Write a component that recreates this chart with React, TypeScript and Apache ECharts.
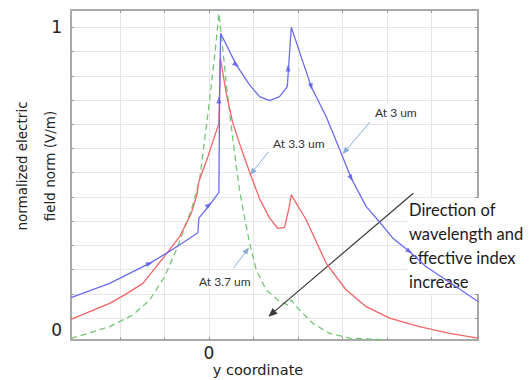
import React, { useEffect, useRef } from "react";
import * as echarts from "echarts";

// ---- data (x: y coordinate, y: normalized electric field norm) ----
const x3um = [-3.1, -2.231, -1.333, -0.957, -0.584, -0.247, -0.225, 0.016, 0.225, 0.24, 0.263, 0.616, 0.915, 1.139, 1.364, 1.589, 1.762, 1.791, 1.852, 2.301, 2.638, 2.975, 3.2, 3.537, 3.798, 4.135, 4.51, 4.885, 5.335, 6.05];
const field3um = [0.108, 0.155, 0.221, 0.254, 0.289, 0.322, 0.37, 0.414, 0.455, 0.76, 0.98, 0.876, 0.81, 0.771, 0.758, 0.771, 0.804, 0.865, 1.0, 0.804, 0.705, 0.584, 0.502, 0.408, 0.364, 0.304, 0.26, 0.21, 0.166, 0.095];

const x33um = [-3.1, -2.231, -1.894, -1.483, -0.996, -0.658, -0.396, -0.27, -0.225, -0.022, 0.225, 0.256, 0.391, 0.539, 0.764, 0.953, 1.139, 1.364, 1.551, 1.701, 1.791, 1.852, 2.189, 2.638, 3.088, 3.537, 4.061, 4.735, 5.409, 6.05];
const field33um = [0.036, 0.089, 0.117, 0.155, 0.245, 0.309, 0.386, 0.447, 0.491, 0.573, 0.683, 0.898, 0.782, 0.683, 0.584, 0.507, 0.434, 0.371, 0.336, 0.34, 0.397, 0.447, 0.364, 0.221, 0.133, 0.078, 0.04, 0.012, -0.01, -0.026];

const x37um = [-3.1, -2.231, -1.708, -1.333, -0.996, -0.733, -0.508, -0.36, -0.209, -0.097, 0.016, 0.128, 0.225, 0.315, 0.391, 0.503, 0.616, 0.69, 0.802, 0.915, 1.065, 1.29, 1.589, 1.775, 1.852, 2.0, 2.337, 2.712, 3.162, 3.971];
const field37um = [-0.027, 0.012, 0.051, 0.1, 0.177, 0.265, 0.353, 0.414, 0.496, 0.628, 0.76, 0.903, 1.046, 0.925, 0.815, 0.672, 0.54, 0.463, 0.371, 0.288, 0.199, 0.133, 0.095, 0.084, 0.1, 0.073, 0.023, -0.01, -0.026, -0.031];

// direction arrows drawn along the 3 um curve
const arrowX3um = [-1.333, 0.0, 0.225, 0.616, 1.78, 2.301, 3.2, 4.51];
const arrowY3um = [0.221, 0.414, 0.76, 0.876, 0.866, 0.804, 0.502, 0.26];
const arrowRot3um = [-70, -50, 0, -125, 0, -165, -150, -125];

// axes
const xGridValues = [-2, -1, 0, 1, 2, 3, 4, 5];
const xLabelValues = [0];
const yGridValues = [0.04, 0.12, 0.2, 0.28, 0.36, 0.44, 0.52, 0.6, 0.68, 0.76, 0.84, 0.92, 1.0];
const yLabelValues = [0, 1];

const zip = (xs: number[], ys: number[]) => xs.map((x, i) => [x, ys[i]]);

function arrow(x1: number, y1: number, x2: number, y2: number, color: string, head: number, width: number) {
  const a = Math.atan2(y2 - y1, x2 - x1);
  const hw = head * 0.42;
  const bx = x2 - head * Math.cos(a);
  const by = y2 - head * Math.sin(a);
  const px = -Math.sin(a);
  const py = Math.cos(a);
  return {
    type: "group",
    z: 3,
    children: [
      { type: "line", z: 3, shape: { x1, y1, x2: bx, y2: by }, style: { stroke: color, lineWidth: width } },
      {
        type: "polygon",
        z: 3,
        shape: { points: [[x2, y2], [bx + px * hw, by + py * hw], [bx - px * hw, by - py * hw]] },
        style: { fill: color },
      },
    ],
  };
}

export default function App() {
  const ref = useRef<HTMLDivElement>(null);
  useEffect(() => {
    if (!ref.current) return;
    const chart = echarts.init(ref.current, undefined, { renderer: "svg" });
    const frame = { show: true, onZero: false, lineStyle: { color: "#a9a9a9", width: 2 } };
    const xMin = -3.1, xMax = 6.05, yMin = -0.032, yMax = 1.057;
    const tickStyle = { color: "#999", width: 1 };
    const labelFont = { fontFamily: "DejaVu Sans", fontSize: 17, color: "#222" };
    const noteFont = { fontFamily: "Lato", fontSize: 12, fill: "#333", backgroundColor: "#fff", padding: [2, 2] };
    chart.setOption({
      animation: false,
      grid: { left: 71, right: 52, top: 10, bottom: 40, containLabel: false, outerBoundsMode: "none" },
      xAxis: [
        {
          type: "value", min: xMin, max: xMax, position: "bottom",
          name: "y coordinate", nameLocation: "middle", nameGap: 22, nameMoveOverlap: false,
          nameTextStyle: { fontFamily: "DejaVu Sans", fontSize: 14.5, color: "#222", padding: [0, 33, 0, 0] },
          axisLine: frame,
          axisTick: { show: true, inside: true, length: 3, customValues: xGridValues, lineStyle: tickStyle },
          axisLabel: { customValues: xLabelValues, margin: 4, ...labelFont, formatter: (v: number) => String(Math.round(v)) },
          splitLine: { show: true, lineStyle: { color: "#e6e6e6", width: 1 } },
        },
        {
          type: "value", min: xMin, max: xMax, position: "top",
          axisLine: frame,
          axisTick: { show: true, inside: true, length: 3, customValues: xGridValues, lineStyle: tickStyle },
          axisLabel: { show: false },
          splitLine: { show: false },
        },
      ],
      yAxis: [
        {
          type: "value", min: yMin, max: yMax, position: "left",
          name: "normalized electric\nfield norm (V/m)", nameLocation: "middle", nameRotate: 90, nameGap: 7,
          nameMoveOverlap: false,
          nameTextStyle: { fontFamily: "DejaVu Sans", fontSize: 13.5, lineHeight: 28, color: "#222", padding: [0, 0, 0, 18] },
          axisLine: frame,
          axisTick: { show: true, inside: true, length: 3, customValues: yGridValues, lineStyle: tickStyle },
          axisLabel: { customValues: yLabelValues, margin: 9, ...labelFont, formatter: (v: number) => String(Math.round(v)) },
          splitLine: { show: true, lineStyle: { color: "#e6e6e6", width: 1 } },
        },
        {
          type: "value", min: yMin, max: yMax, position: "right",
          axisLine: frame,
          axisTick: { show: true, inside: true, length: 3, customValues: yGridValues, lineStyle: tickStyle },
          axisLabel: { show: false },
          splitLine: { show: false },
        },
      ],
      series: [
        {
          name: "At 3 um", type: "line", data: zip(x3um, field3um), symbol: "none",
          lineStyle: { color: "#6b6bf2", width: 1.3 }, z: 4,
        },
        {
          name: "At 3.3 um", type: "line", data: zip(x33um, field33um), symbol: "none",
          lineStyle: { color: "#f46464", width: 1.3 }, z: 3,
        },
        {
          name: "At 3.7 um", type: "line", data: zip(x37um, field37um), symbol: "none",
          lineStyle: { color: "#72c872", width: 1.3, type: [6, 4] }, z: 2,
        },
        {
          name: "3 um direction", type: "scatter", symbol: "triangle", symbolSize: [5, 7],
          itemStyle: { color: "#5a5ae8" }, z: 5,
          data: arrowX3um.map((x, i) => ({ value: [x, arrowY3um[i]], symbolRotate: arrowRot3um[i] })),
        },
      ],
      graphic: [
        { type: "text", x: 373, y: 104, z: 1, style: { text: "At 3 um", ...noteFont } },
        { type: "text", x: 271, y: 135, z: 1, style: { text: "At 3.3 um", ...noteFont } },
        { type: "text", x: 197, y: 273, z: 1, style: { text: "At 3.7 um", ...noteFont } },
        {
          type: "text", x: 407, y: 198, z: 1,
          style: {
            text: "Direction of\nwavelength and\neffective index\nincrease",
            fontFamily: "Lato", fontSize: 16.5, lineHeight: 24, fill: "#1a1a1a",
            backgroundColor: "#fff", padding: [0, 2],
          },
        },
        arrow(370, 122, 342.7, 154, "#86acd8", 7, 1),
        arrow(268.3, 152, 250, 175, "#86acd8", 7, 1),
        arrow(233.3, 268.3, 249, 247.5, "#86acd8", 7, 1),
        arrow(413.3, 193.3, 268.3, 316.7, "#3a3a3a", 9, 1.2),
      ],
    });
    return () => chart.dispose();
  }, []);
  return <div ref={ref} style={{ position: "absolute", left: 0, top: 0, width: 530, height: 380 }} />;
}
